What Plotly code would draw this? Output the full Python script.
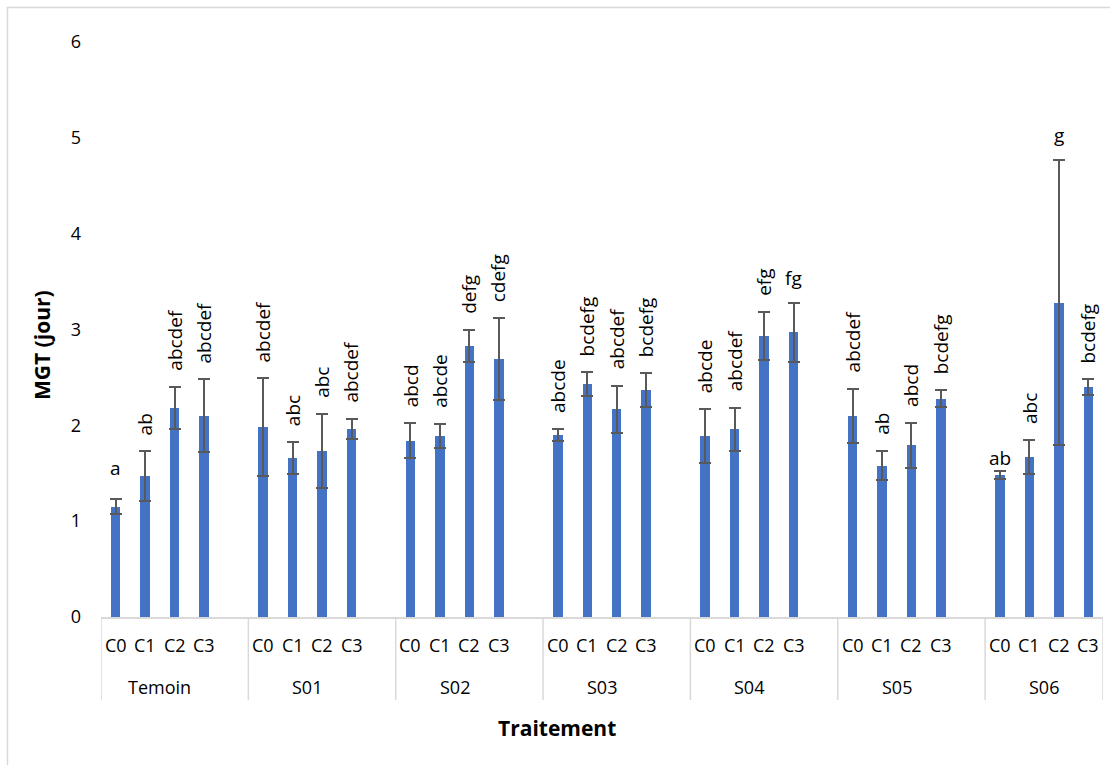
import plotly.graph_objects as go

# Treatments (outer level) and concentrations (inner level)
groups = ["Temoin", "S01", "S02", "S03", "S04", "S05", "S06"]
conditions = ["C0", "C1", "C2", "C3"]

# Mean germination time (days), one value per treatment x concentration, in group order
mgt_mean = [
    1.15, 1.47, 2.18, 2.10,
    1.98, 1.66, 1.73, 1.96,
    1.84, 1.89, 2.83, 2.69,
    1.90, 2.43, 2.17, 2.37,
    1.89, 1.96, 2.93, 2.97,
    2.10, 1.58, 1.79, 2.28,
    1.48, 1.67, 3.28, 2.40,
]
# Standard deviation shown as symmetric error bars
mgt_sd = [
    0.08, 0.26, 0.22, 0.38,
    0.51, 0.165, 0.385, 0.105,
    0.18, 0.125, 0.165, 0.425,
    0.06, 0.125, 0.245, 0.175,
    0.28, 0.225, 0.25, 0.31,
    0.28, 0.155, 0.235, 0.085,
    0.04, 0.175, 1.485, 0.08,
]
# Significance letters
letters = [
    "a", "ab", "abcdef", "abcdef",
    "abcdef", "abc", "abc", "abcdef",
    "abcd", "abcde", "defg", "cdefg",
    "abcde", "bcdefg", "abcdef", "bcdefg",
    "abcde", "abcdef", "efg", "fg",
    "abcdef", "ab", "abcd", "bcdefg",
    "ab", "abc", "g", "bcdefg",
]
y_ticks = [0, 1, 2, 3, 4, 5, 6]

# ---- layout helpers -------------------------------------------------------
W, H = 1110, 765
PL, PR, PT, PB = 101, 1103, 42, 617          # plot area in pixels
SLOTS_PER_GROUP = len(conditions) + 1         # one empty slot between groups
n_slots = len(groups) * SLOTS_PER_GROUP - 1

def px_x(px):
    return (px - PL) / (PR - PL)

def px_y(py):
    return (PB - py) / (PB - PT)

FONT = "Open Sans"
BAR_COLOR = "#4472C4"
GRID_GRAY = "#D9D9D9"

# bar positions on a numeric axis (group g, condition i -> g*5 + i)
xpos = [g * SLOTS_PER_GROUP + i for g in range(len(groups)) for i in range(len(conditions))]

fig = go.Figure()
fig.add_trace(go.Bar(
    x=xpos,
    y=mgt_mean,
    width=0.32,
    marker=dict(color=BAR_COLOR, line=dict(width=0)),
    error_y=dict(type="data", array=mgt_sd, visible=True,
                 color="#595959", thickness=2, width=6),
    hoverinfo="skip",
))

annotations = []
shapes = []

# letters above error bars: short ones are written horizontally
horizontal = {0, 19, 24, 26}
gap_override = {0: 20, 24: 2}
for k, (x, m, s, t) in enumerate(zip(xpos, mgt_mean, mgt_sd, letters)):
    top = m + s
    gap = gap_override.get(k, 14)
    if k in horizontal:
        annotations.append(dict(x=x, y=top, xref="x", yref="y", text=t, showarrow=False,
                                xanchor="center", yanchor="bottom", yshift=gap - 4,
                                font=dict(family=FONT, size=19, color="#000")))
    else:
        annotations.append(dict(x=x, y=top, xref="x", yref="y", text=t, showarrow=False,
                                textangle=-90, xanchor="center", yanchor="bottom", yshift=gap,
                                font=dict(family=FONT, size=19, color="#000")))

# inner category labels
for k, x in enumerate(xpos):
    annotations.append(dict(x=x, y=px_y(645), xref="x", yref="paper",
                            text=conditions[k % len(conditions)], showarrow=False,
                            xanchor="center", yanchor="middle",
                            font=dict(family=FONT, size=18, color="#000")))

# outer group labels and separators
for g, name in enumerate(groups):
    start = g * SLOTS_PER_GROUP - 0.5
    center = g * SLOTS_PER_GROUP + (len(conditions) - 1) / 2
    annotations.append(dict(x=center, y=px_y(687), xref="x", yref="paper", text=name,
                            showarrow=False, xanchor="center", yanchor="middle",
                            font=dict(family=FONT, size=18, color="#000")))
    shapes.append(dict(type="line", xref="x", yref="paper", x0=start, x1=start,
                       y0=0, y1=px_y(700), line=dict(color=GRID_GRAY, width=1.5)))
shapes.append(dict(type="line", xref="x", yref="paper", x0=n_slots - 0.5, x1=n_slots - 0.5,
                   y0=0, y1=px_y(700), line=dict(color=GRID_GRAY, width=1.5)))

# axis titles
annotations.append(dict(x=px_x(42), y=px_y(345), xref="paper", yref="paper",
                        text="<b>MGT (jour)</b>", textangle=-90, showarrow=False,
                        xanchor="center", yanchor="middle",
                        font=dict(family=FONT, size=21, color="#000")))
annotations.append(dict(x=px_x(557), y=px_y(728), xref="paper", yref="paper",
                        text="<b>Traitement</b>", showarrow=False,
                        xanchor="center", yanchor="middle",
                        font=dict(family=FONT, size=21, color="#000")))

# chart frame
shapes.append(dict(type="rect", xref="paper", yref="paper",
                   x0=px_x(7.5), x1=px_x(1120), y0=px_y(7.5), y1=px_y(780),
                   line=dict(color=GRID_GRAY, width=1.5), fillcolor="rgba(0,0,0,0)"))

fig.update_layout(
    width=W, height=H,
    margin=dict(l=PL, r=W - PR, t=PT, b=H - PB),
    paper_bgcolor="white", plot_bgcolor="white",
    showlegend=False,
    bargap=0,
    xaxis=dict(range=[-0.5, n_slots - 0.5], showticklabels=False, showgrid=False,
               zeroline=False, showline=True, linecolor=GRID_GRAY, linewidth=1.5,
               ticks=""),
    yaxis=dict(range=[0, 6], tickvals=y_ticks, showgrid=False, zeroline=False,
               showline=False, ticks="", ticklabelstandoff=19,
               tickfont=dict(family=FONT, size=18, color="#000")),
    annotations=annotations,
    shapes=shapes,
)

fig.write_html("out.html", config={"displayModeBar": False})
